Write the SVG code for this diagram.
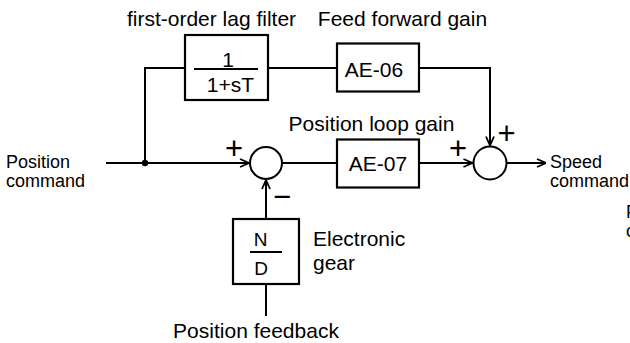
<svg xmlns="http://www.w3.org/2000/svg" width="630" height="343" viewBox="0 0 630 343">
  <defs>
    <marker id="arr" viewBox="0 0 10 10" refX="10" refY="5" markerWidth="10" markerHeight="10" markerUnits="userSpaceOnUse" orient="auto">
      <polyline points="1,1 10,5 1,9" fill="none" stroke="#000" stroke-width="1.8"/>
    </marker>
  </defs>
  <style>
    .ln { fill: none; stroke: #000; stroke-width: 2; }
    .box { fill: #fff; stroke: #000; stroke-width: 2.2; }
    .t { font-family: "Liberation Sans", Arial, sans-serif; font-size: 21px; fill: #000; }
    .io { font-family: "Liberation Sans", Arial, sans-serif; font-size: 18px; fill: #000; }
    .sg { font-family: "Liberation Sans", Arial, sans-serif; font-size: 31px; fill: #000; text-anchor: middle; }
    .m { text-anchor: middle; }
  </style>

  <g id="connectors">
    <line class="ln" x1="106" y1="163" x2="249" y2="163" marker-end="url(#arr)"/>
    <polyline class="ln" points="145,163 145,68 185,68"/>
    <line class="ln" x1="268" y1="68" x2="337" y2="68"/>
    <polyline class="ln" points="419,68 490,68 490,145.5" marker-end="url(#arr)"/>
    <line class="ln" x1="282" y1="163" x2="337" y2="163"/>
    <line class="ln" x1="419" y1="163" x2="472.5" y2="163" marker-end="url(#arr)"/>
    <line class="ln" x1="506.5" y1="163" x2="546" y2="163" marker-end="url(#arr)"/>
    <line class="ln" x1="266" y1="219" x2="266" y2="180" marker-end="url(#arr)"/>
    <line class="ln" x1="266" y1="316" x2="266" y2="284"/>
    <circle cx="145" cy="163" r="3.2" fill="#000"/>
  </g>

  <g id="input">
    <text class="io" x="6" y="168">Position</text>
    <text class="io" x="6" y="187">command</text>
  </g>

  <g id="lag-filter">
    <rect class="box" x="185" y="35" width="83" height="65"/>
    <line class="ln" x1="194" y1="69" x2="258" y2="69"/>
    <text class="t m" x="228" y="67">1</text>
    <text class="t m" x="230.5" y="92">1+sT</text>
    <text class="t m" x="211.5" y="26">first-order lag filter</text>
  </g>

  <g id="ff-gain">
    <rect class="box" x="337" y="43.5" width="82" height="48"/>
    <text class="t m" x="374" y="77">AE-06</text>
    <text class="t m" x="402.5" y="26">Feed forward gain</text>
  </g>

  <g id="sum1">
    <circle class="ln" cx="266" cy="163" r="16"/>
    <text class="sg" x="234" y="158.5">+</text>
    <text class="sg" x="282" y="207">−</text>
  </g>

  <g id="pos-gain">
    <rect class="box" x="337" y="139.5" width="82" height="48"/>
    <text class="t m" x="378" y="171">AE-07</text>
    <text class="t m" x="371.5" y="131">Position loop gain</text>
  </g>

  <g id="sum2">
    <circle class="ln" cx="490" cy="163" r="16.5"/>
    <text class="sg" x="458" y="159">+</text>
    <text class="sg" x="506.5" y="143.5">+</text>
  </g>

  <g id="output">
    <text class="io" x="550" y="168">Speed</text>
    <text class="io" x="550" y="187">command</text>
    <text class="io" x="626" y="218">P</text>
    <text class="io" x="626" y="237">c</text>
  </g>

  <g id="electronic-gear">
    <rect class="box" x="233" y="219" width="66" height="65"/>
    <line class="ln" x1="250" y1="252" x2="282" y2="252"/>
    <text class="t m" x="260.5" y="246" style="font-size:19px">N</text>
    <text class="t m" x="261" y="275" style="font-size:19px">D</text>
    <text class="t" x="313" y="246">Electronic</text>
    <text class="t" x="313" y="270">gear</text>
  </g>

  <g id="feedback">
    <text class="t m" x="256" y="338">Position feedback</text>
  </g>
</svg>
